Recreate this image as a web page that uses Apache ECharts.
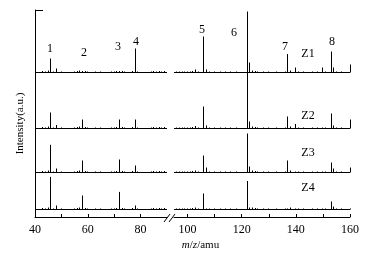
<!DOCTYPE html>
<html>
<head>
<meta charset="utf-8">
<script src="https://cdn.jsdelivr.net/npm/echarts@6/dist/echarts.min.js"></script>
<style>
html,body{margin:0;padding:0;background:#fff}
#chart{width:375px;height:256px}
</style>
</head>
<body>
<div id="chart"></div>
<script>
"use strict";

// 主要峰位 m/z
var peakMz = [46, 48, 58, 72, 78, 103, 106, 107, 122, 123, 137, 140, 150, 153, 154, 160];
// 各样品峰高 (a.u.)
var z1 = [14, 4, 1.5, 1.5, 24, 3, 36, 3, 61, 10, 18.5, 5, 5, 21, 5, 8];
var z2 = [16, 3.5, 9, 9, 9, 2.5, 22, 3, 59, 7, 12, 4.5, 1, 15, 3, 9];
var z3 = [27.7, 4, 12, 13, 7, 2, 17, 5, 39, 6, 12, 1, 1, 10, 4, 5];
var z4 = [32.6, 4, 14, 17.6, 4, 2, 16, 1, 28.5, 2, 1, 1, 1, 8, 3, 1];
// 小峰
var noiseMz = [43, 44, 45, 47, 50, 55, 56, 57, 59, 60, 63, 65, 69, 70, 71, 73, 74, 77, 79, 84, 85, 86, 87, 88, 89,
               96, 97, 98, 99, 100, 101, 102, 104, 108, 110, 112, 114, 116, 118, 124, 125, 126, 128, 130, 133, 136, 138, 141, 143, 146, 148, 151, 155, 157];
var noiseH  = [1.5, 1, 2, 1, 1, 1, 1.5, 2, 1.5, 1, 1, 1, 1, 1, 1.5, 1.5, 1, 1.5, 1, 1, 1.5, 1, 1.5, 1, 1.5,
               1, 1, 1, 1, 1, 1, 1.5, 1, 1, 1, 1, 1, 1, 1, 2, 1.5, 1, 1, 1, 1, 1, 2, 1, 1, 1, 1, 1, 1, 1];
var traceNames = ['Z1', 'Z2', 'Z3', 'Z4'];
var xTicksLeft = [40, 50, 60, 70, 80];
var xTicksRight = [100, 110, 120, 130, 140, 150, 160];
var xLabelsLeft = [40, 60, 80];
var xLabelsRight = [100, 120, 140, 160];

// 每条谱线的基线偏移
var offsets = [145, 88.5, 45, 7.5];
var font = '"Liberation Serif", "Times New Roman", serif';
var traces = [z1, z2, z3, z4];

// 竖线 (峰)
function renderStick(params, api) {
    var x = api.value(0), h = api.value(1), off = api.value(2);
    var p0 = api.coord([x, off]);
    var p1 = api.coord([x, off + h]);
    var px = Math.round(p0[0] - 0.5) + 0.5;
    var py = Math.floor(p0[1]) + 0.5;
    return {
        type: 'line',
        shape: { x1: px, y1: py, x2: px, y2: py - (p0[1] - p1[1]) },
        style: { stroke: '#000', lineWidth: 1 }
    };
}
// 基线
function renderBase(params, api) {
    var a = api.coord([api.value(0), api.value(2)]);
    var b = api.coord([api.value(1), api.value(2)]);
    var py = Math.floor(a[1]) + 0.5;
    return {
        type: 'line',
        shape: { x1: a[0], y1: py, x2: b[0], y2: py },
        style: { stroke: '#000', lineWidth: 1 }
    };
}

var series = [];
[[40, 90, 0], [95, 160, 1]].forEach(function (seg) {
    var sticks = [], bases = [];
    traces.forEach(function (h, t) {
        bases.push([seg[0], seg[1], offsets[t]]);
        for (var i = 0; i < peakMz.length; i++) {
            if (peakMz[i] >= seg[0] && peakMz[i] <= seg[1]) sticks.push([peakMz[i], h[i], offsets[t]]);
        }
        for (var j = 0; j < noiseMz.length; j++) {
            if (noiseMz[j] >= seg[0] && noiseMz[j] <= seg[1]) sticks.push([noiseMz[j], noiseH[j], offsets[t]]);
        }
    });
    series.push({
        type: 'custom', xAxisIndex: seg[2], yAxisIndex: seg[2], silent: true,
        renderItem: renderBase, encode: { x: [0, 1], y: 2 }, data: bases
    });
    series.push({
        type: 'custom', xAxisIndex: seg[2], yAxisIndex: seg[2], silent: true,
        renderItem: renderStick, encode: { x: 0, y: 2 }, data: sticks
    });
});

function xAxisOf(grid, min, max, ticks, labels) {
    return {
        type: 'value', gridIndex: grid, min: min, max: max,
        axisLine: { show: true, lineStyle: { color: '#000', width: 1 } },
        axisTick: { show: true, inside: true, length: 3, customValues: ticks, lineStyle: { color: '#000' } },
        axisLabel: { customValues: labels, color: '#000', fontFamily: font, fontSize: 12, margin: 7 },
        splitLine: { show: false }
    };
}

var myChart = echarts.init(document.getElementById('chart'));

var texts = [
    ['1', 50, 49], ['2', 84, 53], ['3', 118, 47], ['4', 136, 41.5],
    ['5', 202, 29.5], ['6', 234, 33], ['7', 285, 46.5], ['8', 332, 42],
    ['Z1', 308, 54], ['Z2', 308, 116], ['Z3', 308, 153], ['Z4', 308, 188]
];
var graphics = texts.map(function (d) {
    return {
        type: 'text', x: d[1], y: d[2], silent: true,
        style: { text: d[0], fill: '#000', font: '12px ' + font, align: 'center', verticalAlign: 'middle' }
    };
});
// 坐标轴标题
graphics.push({
    type: 'text', x: 20, y: 123.5, rotation: Math.PI / 2, silent: true,
    style: { text: 'Intensity(a.u.)', fill: '#000', font: '11px ' + font, align: 'center', verticalAlign: 'middle' }
});
graphics.push({
    type: 'text', x: 200.5, y: 245, silent: true,
    style: {
        text: '{i|m}/{i|z}/amu', fill: '#000', font: '11px ' + font, align: 'center', verticalAlign: 'middle',
        rich: { i: { fontStyle: 'italic', fontFamily: font, fontSize: 11, fill: '#000' } }
    }
});
// 断轴符号
graphics.push({ type: 'line', silent: true, shape: { x1: 164, y1: 222, x2: 170, y2: 214 }, style: { stroke: '#000', lineWidth: 1 } });
graphics.push({ type: 'line', silent: true, shape: { x1: 169, y1: 222, x2: 175, y2: 214 }, style: { stroke: '#000', lineWidth: 1 } });

var option = {
    animation: false,
    backgroundColor: '#fff',
    textStyle: { fontFamily: font },
    grid: [
        { left: 35, top: 10, width: 132, height: 207 },
        { left: 174, top: 10, width: 176, height: 207 }
    ],
    xAxis: [
        xAxisOf(0, 40, 90, xTicksLeft, xLabelsLeft),
        xAxisOf(1, 95, 160, xTicksRight, xLabelsRight)
    ],
    yAxis: [
        {
            type: 'value', gridIndex: 0, min: 0, max: 207,
            axisLine: { show: true, lineStyle: { color: '#000', width: 1 } },
            axisTick: { show: true, inside: true, length: 8, customValues: [207], lineStyle: { color: '#000' } },
            axisLabel: { show: false },
            splitLine: { show: false }
        },
        {
            type: 'value', gridIndex: 1, min: 0, max: 207, show: false,
            splitLine: { show: false }
        }
    ],
    series: series,
    graphic: graphics
};
myChart.setOption(option, true);
</script>
</body>
</html>
